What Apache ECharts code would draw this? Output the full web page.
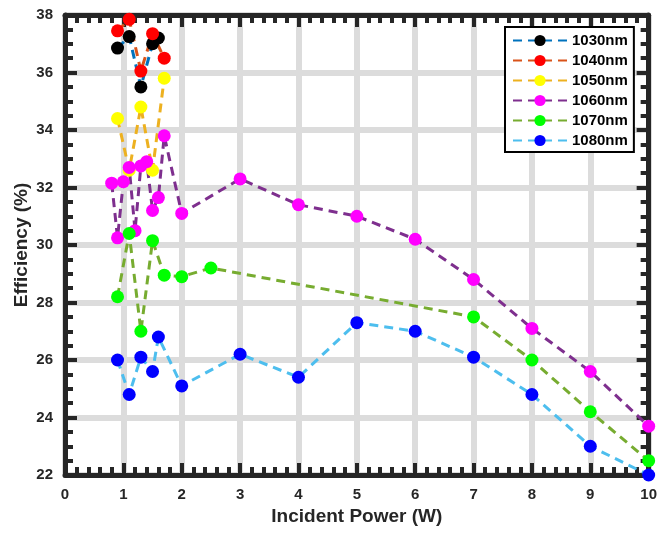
<!DOCTYPE html>
<html>
<head>
<meta charset="utf-8">
<title>Efficiency vs Incident Power</title>
<script src="https://cdn.jsdelivr.net/npm/echarts@6/dist/echarts.min.js"></script>
<style>
  html, body { margin: 0; padding: 0; background: #ffffff; }
  #chart { width: 660px; height: 534px; }
</style>
</head>
<body>
<div id="chart"></div>
<script>
// Incident power (W) and efficiency (%) for each wavelength
const names = ['1030nm', '1040nm', '1050nm', '1060nm', '1070nm', '1080nm'];

const power1030 = [0.9, 1.1, 1.3, 1.5, 1.6];
const eff1030   = [36.85, 37.25, 35.5, 37.0, 37.2];

const power1040 = [0.9, 1.1, 1.3, 1.5, 1.7];
const eff1040   = [37.45, 37.85, 36.05, 37.35, 36.5];

const power1050 = [0.9, 1.1, 1.3, 1.5, 1.7];
const eff1050   = [34.4, 32.6, 34.8, 32.6, 35.8];

const power1060 = [0.8, 0.9, 1.0, 1.1, 1.2, 1.3, 1.4, 1.5, 1.6, 1.7, 2, 3, 4, 5, 6, 7, 8, 9, 10];
const eff1060   = [32.15, 30.25, 32.2, 32.7, 30.5, 32.75, 32.9, 31.2, 31.65, 33.8, 31.1, 32.3, 31.4, 31.0, 30.2, 28.8, 27.1, 25.6, 23.7];

const power1070 = [0.9, 1.1, 1.3, 1.5, 1.7, 2, 2.5, 7, 8, 9, 10];
const eff1070   = [28.2, 30.4, 27.0, 30.15, 28.95, 28.9, 29.2, 27.5, 26.0, 24.2, 22.5];

const power1080 = [0.9, 1.1, 1.3, 1.5, 1.6, 2, 3, 4, 5, 6, 7, 8, 9, 10];
const eff1080   = [26.0, 24.8, 26.1, 25.6, 26.8, 25.1, 26.2, 25.4, 27.3, 27.0, 26.1, 24.8, 23.0, 22.0];

const powers = [power1030, power1040, power1050, power1060, power1070, power1080];
const effs   = [eff1030, eff1040, eff1050, eff1060, eff1070, eff1080];

// line (dash) colours and marker fills per wavelength
const lineColors   = ['#0072BD', '#D95319', '#EDB120', '#7E2F8E', '#77AC30', '#4DBEEE'];
const markerColors = ['#000000', '#FF0000', '#FFFF00', '#FF00FF', '#00FF00', '#0000FF'];

const FONT = '"Liberation Sans", Arial, Helvetica, sans-serif';
const INK = '#262626';

function minor(split) {
  return { show: true, splitNumber: split, length: 8, lineStyle: { color: INK, width: 4 } };
}

function frameAxis(extra) {
  return Object.assign({
    type: 'value',
    axisLine: { show: true, onZero: false, lineStyle: { color: INK, width: 5 } },
    axisTick: { show: true, inside: true, length: 12, lineStyle: { color: INK, width: 4 } },
    splitLine: { show: false },
    axisLabel: { show: false }
  }, extra);
}

const xBase = { min: 0, max: 10, interval: 1 };
const yBase = { min: 22, max: 38, interval: 2 };

const series = names.map((n, i) => ({
  name: n,
  type: 'line',
  xAxisIndex: 0,
  yAxisIndex: 0,
  data: powers[i].map((p, k) => [p, effs[i][k]]),
  symbol: 'circle',
  symbolSize: 13,
  showAllSymbol: true,
  clip: false,
  lineStyle: { color: lineColors[i], width: 3, type: [9, 6] },
  itemStyle: { color: markerColors[i], borderWidth: 0 },
  emphasis: { disabled: true },
  animation: false
}));

const chart = echarts.init(document.getElementById('chart'), null, { renderer: 'canvas' });
chart.setOption({
  backgroundColor: '#ffffff',
  animation: false,
  grid: { left: 65, right: 9, top: 15, bottom: 59, containLabel: false },
  xAxis: [
    frameAxis(Object.assign({}, xBase, {
      position: 'bottom',
      minorTick: minor(5),
      splitLine: { show: true, lineStyle: { color: '#dcdcdc', width: 6 } },
      axisLabel: { show: true, color: INK, fontSize: 15, fontWeight: 'bold', fontFamily: FONT, margin: 12 },
      name: 'Incident Power (W)',
      nameLocation: 'middle',
      nameGap: 32,
      nameMoveOverlap: false,
      nameTextStyle: { color: INK, fontSize: 19, fontWeight: 'bold', fontFamily: FONT }
    })),
    frameAxis(Object.assign({}, xBase, {
      position: 'top',
      minorTick: minor(5)
    }))
  ],
  yAxis: [
    frameAxis(Object.assign({}, yBase, {
      position: 'left',
      minorTick: minor(4),
      splitLine: { show: true, lineStyle: { color: '#dcdcdc', width: 6 } },
      axisLabel: { show: true, color: INK, fontSize: 15, fontWeight: 'bold', fontFamily: FONT, margin: 12 },
      name: 'Efficiency (%)',
      nameLocation: 'middle',
      nameGap: 34,
      nameMoveOverlap: false,
      nameTextStyle: { color: INK, fontSize: 19, fontWeight: 'bold', fontFamily: FONT }
    })),
    frameAxis(Object.assign({}, yBase, {
      position: 'right',
      minorTick: minor(4)
    }))
  ],
  legend: {
    data: names,
    orient: 'vertical',
    left: 505,
    top: 27,
    padding: [6, 6, 4, 7],
    itemWidth: 54,
    itemHeight: 14,
    itemGap: 5,
    backgroundColor: '#ffffff',
    borderColor: '#000000',
    borderWidth: 2,
    borderRadius: 0,
    selectedMode: false,
    textStyle: { color: '#000000', fontSize: 15, fontWeight: 'bold', fontFamily: FONT }
  },
  series: series
});
</script>
</body>
</html>
